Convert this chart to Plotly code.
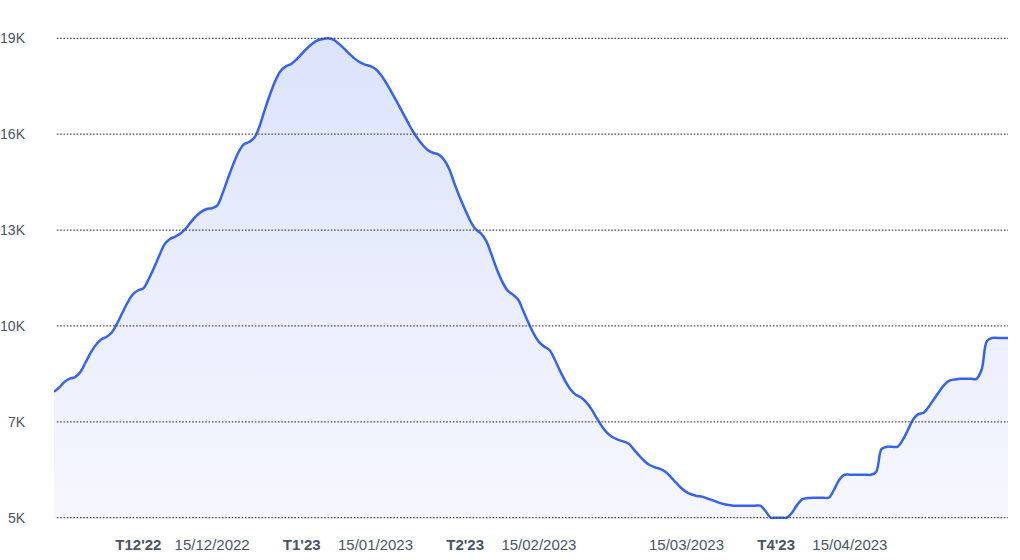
import pandas as pd
import plotly.graph_objects as go

start_date = "2022-11-15"
values = [
    8380, 8515, 8680, 8776, 8824, 8974, 9268, 9565, 9802, 9958,
    10036, 10171, 10444, 10762, 11074, 11314, 11431, 11497, 11779, 12115,
    12481, 12817, 12973, 13045, 13135, 13288, 13486, 13666, 13795, 13873,
    13897, 13984, 14350, 14791, 15214, 15577, 15814, 15886, 16012, 16360,
    16861, 17320, 17728, 18019, 18157, 18229, 18364, 18532, 18700, 18838,
    18943, 18980, 19000, 18958, 18841, 18700, 18541, 18397, 18283, 18211,
    18166, 18079, 17908, 17668, 17392, 17110, 16813, 16519, 16231, 15988,
    15787, 15634, 15556, 15508, 15352, 15070, 14626, 14218, 13852, 13510,
    13264, 13141, 12916, 12508, 12070, 11704, 11434, 11308, 11170, 10825,
    10462, 10132, 9880, 9739, 9637, 9352, 9013, 8701, 8452, 8293,
    8212, 8065, 7852, 7582, 7333, 7141, 7015, 6943, 6892, 6826,
    6652, 6469, 6304, 6181, 6112, 6064, 5977, 5827, 5650, 5491,
    5368, 5296, 5254, 5233, 5176, 5119, 5059, 5011, 4981, 4960,
    4960, 4960, 4960, 4960, 4960, 4800, 4600, 4600, 4600, 4600,
    4744, 4984, 5155, 5188, 5200, 5200, 5200, 5200, 5446, 5740,
    5890, 5890, 5890, 5890, 5890, 5890, 5980, 6661, 6730, 6730,
    6730, 6928, 7234, 7552, 7708, 7750, 7942, 8170, 8401, 8605,
    8725, 8752, 8770, 8770, 8770, 8770, 9050, 9910, 10000, 10000,
    10000, 10000,
]
dates = pd.date_range(start=start_date, periods=len(values), freq="D")

x_tick_dates = ["2022-12-01", "2022-12-15", "2023-01-01", "2023-01-15", "2023-02-01",
                "2023-02-15", "2023-03-15", "2023-04-01", "2023-04-15"]
x_tick_labels = ["<b>T12'22</b>", "15/12/2022", "<b>T1'23</b>", "15/01/2023", "<b>T2'23</b>",
                 "15/02/2023", "15/03/2023", "<b>T4'23</b>", "15/04/2023"]
y_tick_vals = [4600, 7480, 10360, 13240, 16120, 19000]
y_tick_labels = ["5K", "7K", "10K", "13K", "16K", "19K"]

fig = go.Figure()
fig.add_trace(go.Scatter(
    x=dates, y=values,
    mode="lines",
    line=dict(color="#3563f0", width=2.5, shape="spline", smoothing=1.0),
    fill="tozeroy",
    fillgradient=dict(type="vertical", start=4600, stop=19000,
                      colorscale=[[0, "#f6f7fe"], [1, "#dce3fb"]]),
    hoverinfo="skip",
))

# dotted gridlines drawn above the filled area, at the y tick values
for yv in y_tick_vals:
    fig.add_shape(type="line", xref="paper", x0=0.003, x1=1, yref="y", y0=yv, y1=yv,
                  line=dict(color="#444444", width=1.2, dash="1.5px,1.8px"), layer="above")

fig.update_layout(
    width=1020, height=560,
    margin=dict(l=54, r=12, t=37, b=41, autoexpand=False),
    paper_bgcolor="white", plot_bgcolor="white",
    showlegend=False,
    font=dict(family="Liberation Sans, Arial, sans-serif", size=15, color="#475569"),
)
fig.update_xaxes(
    range=["2022-11-15", "2023-05-15"],
    tickmode="array", tickvals=x_tick_dates, ticktext=x_tick_labels,
    showgrid=False, zeroline=False, showline=False, ticks="",
    ticklabelstandoff=15, automargin=False,
)
fig.update_yaxes(
    range=[4560, 19040],
    tickmode="array", tickvals=y_tick_vals, ticktext=y_tick_labels,
    tickfont=dict(size=14),
    showgrid=False,
    zeroline=False, showline=False, ticks="",
    ticklabelstandoff=28, automargin=False,
)

fig.write_html(
    "out.html",
    config={"displayModeBar": False, "staticPlot": True},
    post_script="document.body.style.margin='0px';document.body.style.overflow='hidden';",
)
